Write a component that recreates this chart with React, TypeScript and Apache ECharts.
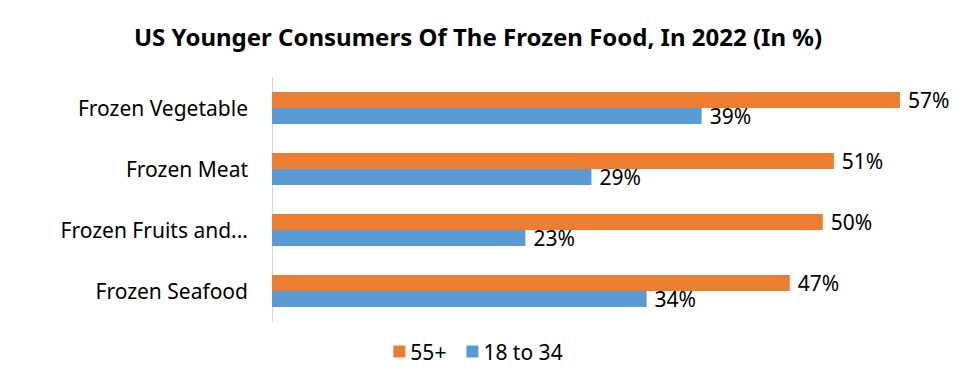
import React, { useEffect, useRef } from "react";
import * as echarts from "echarts";

const categories = ["Frozen Vegetable", "Frozen Meat", "Frozen Fruits and...", "Frozen Seafood"];
const seriesNames = ["55+", "18 to 34"];
const values55Plus = [57, 51, 50, 47];
const values18to34 = [39, 29, 23, 34];
const colors = ["#ED7D31", "#5B9BD5"];
const titleText = "US Younger Consumers Of The Frozen Food, In 2022 (In %)";

const FONT = "'Noto Sans', 'Open Sans', sans-serif";

export default function App() {
  const ref = useRef<HTMLDivElement>(null);
  useEffect(() => {
    document.body.style.margin = "0";
    const chart = echarts.init(ref.current!, undefined, { renderer: "svg" });
    const label = {
      show: true,
      position: "right" as const,
      distance: 8,
      formatter: "{c}%",
      fontFamily: FONT,
      fontSize: 21,
      color: "#000",
    };
    chart.setOption({
      animation: false,
      backgroundColor: "#fff",
      title: {
        text: titleText,
        left: "center",
        top: 19,
        textStyle: { fontFamily: FONT, fontSize: 24, fontWeight: "bold", color: "#000" },
      },
      legend: {
        data: seriesNames,
        bottom: 19,
        left: "center",
        icon: "rect",
        itemWidth: 12,
        itemHeight: 12,
        itemGap: 20,
        textStyle: { fontFamily: FONT, fontSize: 21, color: "#000" },
      },
      grid: { left: 272, right: 23, top: 77.5, height: 244, containLabel: false },
      xAxis: {
        type: "value",
        min: 0,
        max: 60,
        show: false,
        splitLine: { show: false },
      },
      yAxis: {
        type: "category",
        data: categories,
        inverse: true,
        axisLine: { show: true, lineStyle: { color: "#D9D9D9", width: 1 } },
        axisTick: { show: false },
        axisLabel: { fontFamily: FONT, fontSize: 21, color: "#000", margin: 24 },
      },
      series: [
        {
          name: seriesNames[0],
          type: "bar",
          data: values55Plus,
          barWidth: 16,
          barGap: "0%",
          itemStyle: { color: colors[0] },
          label,
        },
        {
          name: seriesNames[1],
          type: "bar",
          data: values18to34,
          barWidth: 16,
          barGap: "0%",
          itemStyle: { color: colors[1] },
          label,
        },
      ],
    });
    return () => chart.dispose();
  }, []);
  return <div ref={ref} style={{ width: 956, height: 386, position: "absolute", left: 0, top: 0 }} />;
}
